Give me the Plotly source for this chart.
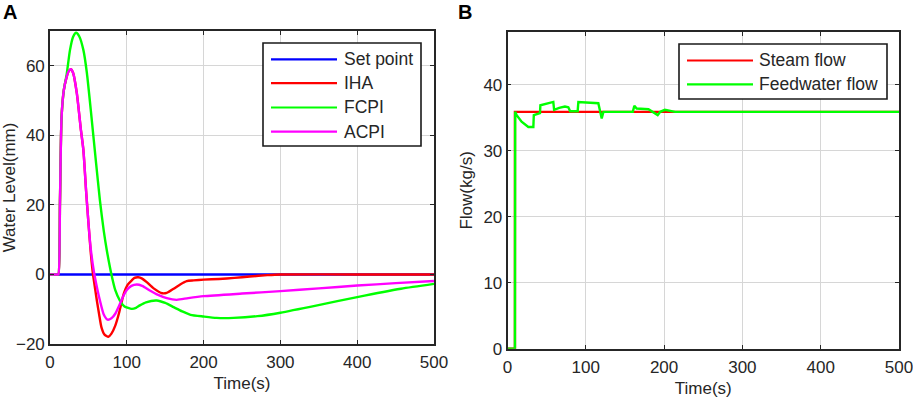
import plotly.graph_objects as go

# ---------------- Data ----------------
# Panel A: water level (mm)
t_set = [0, 500]
set_point = [0, 0]

t_iha = [0, 10, 11, 13, 15, 18, 21.7, 24, 27, 30, 35, 40, 43.5, 47, 50, 53, 56, 59, 61, 64, 67, 71, 76,
         80, 85, 90, 96, 101, 106.5, 110, 115, 120, 126, 135, 146, 152, 161, 170, 178, 187, 200, 220,
         240, 260, 283, 300, 400, 500]
iha = [0, 0, 0, 21, 45, 53, 56.8, 58.3, 59, 58, 52, 42, 35.7, 24, 15, 6.5, 0, -4.5, -7.5, -11.5, -15.2,
       -17.3, -17.9, -17, -14.7, -11, -5.6, -3, -1.7, -1.0, -0.8, -1.2, -2.2, -4.0, -5.4, -5.3, -4.1,
       -2.8, -1.9, -1.7, -1.5, -1.3, -1.0, -0.6, -0.2, 0, 0, 0]

t_fcpi = [0, 10, 11, 13, 15, 18, 21.7, 26, 30, 34, 38, 43.5, 48, 54, 60, 65, 70, 74, 80, 85, 91, 97,
          106.5, 112, 117, 125, 139, 150, 161, 172, 183, 200, 217, 239, 270, 300, 348, 400, 457, 500]
fcpi = [0, 0, 0, 21, 45, 53, 57.5, 64.5, 68.3, 69.5, 68.5, 64.5, 58, 45.3, 32, 21.3, 12.5, 6.9, 0, -4.5,
        -7.5, -9.2, -9.9, -9.6, -8.9, -8.0, -7.5, -8.2, -9.4, -10.6, -11.6, -12.1, -12.5, -12.5, -12.0,
        -11.0, -8.9, -6.5, -4.1, -2.7]

t_acpi = [0, 10, 11, 13, 15, 18, 21.7, 24, 27, 30, 35, 40, 43.5, 47, 50, 53, 57, 60, 65, 70, 75, 80,
          85, 90, 96, 100, 106, 113, 120, 130, 140, 152, 165, 180, 200, 250, 300, 350, 400, 450, 500]
acpi = [0, 0, 0, 21, 45, 53, 56.8, 58.3, 59, 58, 52, 42, 35.7, 24, 15, 7.5, 1, -2.5, -7.5, -11.5, -13,
        -12.6, -11.3, -9, -6, -4.5, -3.3, -2.9, -3.3, -4.6, -5.8, -6.8, -7.3, -6.8, -6.25, -5.5, -4.8,
        -4.0, -3.2, -2.5, -1.9]

# Panel B: flow (kg/s)
t_steam = [0, 9.5, 9.5, 500]
steam = [0, 0, 35.9, 35.9]

t_feed = [0, 9.5, 9.8, 11.7, 18, 26.6, 33, 33.6, 41.5, 42, 58.5, 59.5, 66, 73.4, 77.7, 80, 89.6, 90.5,
          116, 118, 120.3, 122.5, 160, 162, 165, 180, 186, 191.8, 195, 201, 214, 500]
feed = [0, 0, 35.9, 35.4, 34.4, 33.6, 33.6, 35.4, 35.7, 36.9, 37.4, 36.2, 36.5, 36.7, 36.6, 36.0, 36.0,
        37.4, 37.2, 36.2, 34.9, 35.9, 35.9, 36.8, 36.4, 36.3, 35.9, 35.4, 35.9, 36.2, 35.9, 35.9]

x_ticks = [0, 100, 200, 300, 400, 500]
yA_ticks = [-20, 0, 20, 40, 60]
yB_ticks = [0, 10, 20, 30, 40]

legendA = [("Set point", "#0000ff"), ("IHA", "#ff0000"), ("FCPI", "#00ff00"), ("ACPI", "#ff00ff")]
legendB = [("Steam flow", "#ff0000"), ("Feedwater flow", "#00ff00")]

# ---------------- Figure ----------------
W, H = 913, 398
FONT = "Liberation Sans, Arial, sans-serif"
TXT = "#262626"


def px(x):
    return x / W


def py(y):
    return 1 - y / H


fig = go.Figure()
lw = 2.4
fig.add_trace(go.Scatter(x=t_set, y=set_point, mode="lines", line=dict(color="#0000ff", width=lw),
                         xaxis="x", yaxis="y", showlegend=False))
fig.add_trace(go.Scatter(x=t_iha, y=iha, mode="lines", line=dict(color="#ff0000", width=lw, shape="spline", smoothing=0.6),
                         xaxis="x", yaxis="y", showlegend=False))
fig.add_trace(go.Scatter(x=t_fcpi, y=fcpi, mode="lines", line=dict(color="#00ff00", width=lw, shape="spline", smoothing=0.6),
                         xaxis="x", yaxis="y", showlegend=False))
fig.add_trace(go.Scatter(x=t_acpi, y=acpi, mode="lines", line=dict(color="#ff00ff", width=lw, shape="spline", smoothing=0.6),
                         xaxis="x", yaxis="y", showlegend=False))

fig.add_trace(go.Scatter(x=t_steam, y=steam, mode="lines", line=dict(color="#ff0000", width=lw),
                         xaxis="x2", yaxis="y2", showlegend=False))
fig.add_trace(go.Scatter(x=t_feed, y=feed, mode="lines", line=dict(color="#00ff00", width=lw),
                         xaxis="x2", yaxis="y2", showlegend=False))

axis_common = dict(showline=True, linecolor=TXT, linewidth=1.6, mirror="allticks", ticks="inside",
                   ticklen=4, tickcolor=TXT, tickwidth=1.3, showgrid=True, gridcolor="#d6d6d6",
                   gridwidth=1.3, zeroline=False, tickfont=dict(family=FONT, size=17, color=TXT),
                   automargin=False, ticklabeloverflow="allow")

fig.update_layout(
    width=W, height=H, margin=dict(l=0, r=0, t=0, b=0),
    paper_bgcolor="white", plot_bgcolor="white",
    xaxis=dict(domain=[px(50), px(434)], range=[0, 500], tickvals=x_ticks, anchor="y", ticklabelstandoff=2,
               title=dict(text="Time(s)", font=dict(family=FONT, size=17, color=TXT), standoff=6),
               **axis_common),
    yaxis=dict(domain=[py(344), py(31)], range=[-20, 70], tickvals=yA_ticks, anchor="x",
               title=dict(text="Water Level(mm)", font=dict(family=FONT, size=17, color=TXT), standoff=5),
               **axis_common),
    xaxis2=dict(domain=[px(507.5), px(899)], range=[0, 500], tickvals=x_ticks, anchor="y2", ticklabelstandoff=2,
                title=dict(text="Time(s)", font=dict(family=FONT, size=17, color=TXT), standoff=6),
                **axis_common),
    yaxis2=dict(domain=[py(348.7), py(32)], range=[0, 48], tickvals=yB_ticks, anchor="x2",
                title=dict(text="Flow(kg/s)", font=dict(family=FONT, size=17, color=TXT), standoff=6),
                **axis_common),
)

shapes = []
annotations = []

# panel letters
annotations.append(dict(text="<b>A</b>", x=px(1), y=py(-1), xref="paper", yref="paper", xanchor="left",
                        yanchor="top", showarrow=False, font=dict(family=FONT, size=20, color="black")))
annotations.append(dict(text="<b>B</b>", x=px(456), y=py(-1), xref="paper", yref="paper", xanchor="left",
                        yanchor="top", showarrow=False, font=dict(family=FONT, size=20, color="black")))


def add_legend(box, line_x0, line_x1, text_x, ys, items):
    x0, y0, x1, y1 = box
    shapes.append(dict(type="rect", xref="paper", yref="paper", x0=px(x0), x1=px(x1), y0=py(y1), y1=py(y0),
                       line=dict(color="#1a1a1a", width=1.6), fillcolor="white", layer="above"))
    for (label, color), yy in zip(items, ys):
        shapes.append(dict(type="line", xref="paper", yref="paper", x0=px(line_x0), x1=px(line_x1),
                           y0=py(yy), y1=py(yy), line=dict(color=color, width=2.2), layer="above"))
        annotations.append(dict(text=label, x=px(text_x), y=py(yy), xref="paper", yref="paper",
                                xanchor="left", yanchor="middle", showarrow=False,
                                font=dict(family=FONT, size=17.5, color=TXT)))


add_legend((263, 43, 421, 146), 271, 337, 342, [59.3, 83.2, 107.5, 131.7], legendA)
add_legend((679, 44, 887, 99), 687, 753, 757, [60.5, 84.3], legendB)

fig.update_layout(shapes=shapes, annotations=annotations)

fig.write_html("out.html", config={"displayModeBar": False},
               post_script="document.body.style.margin='0';document.body.style.padding='0';"
                           "document.body.style.overflow='hidden';")
